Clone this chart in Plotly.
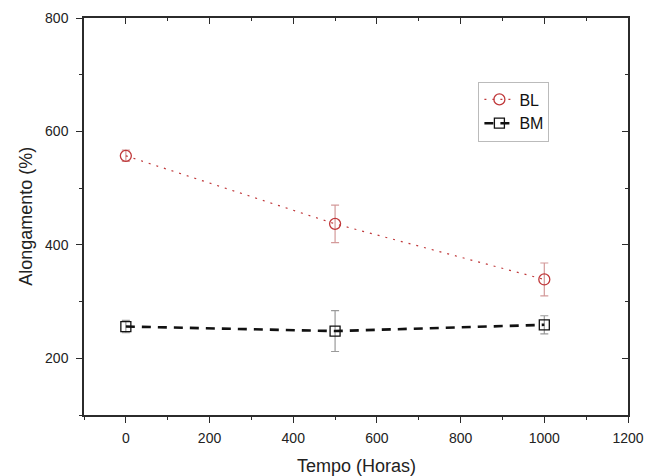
import plotly.graph_objects as go

horas = [0, 500, 1000]
bl_vals = [557, 437, 339]
bl_err = [10, 33, 29]
bm_vals = [256, 248, 259]
bm_err = [11, 36, 16]

x_ticks = [0, 200, 400, 600, 800, 1000, 1200]
y_ticks = [200, 400, 600, 800]

FONT = "Liberation Sans, Arial, sans-serif"
AX = "#2b2b2b"

fig = go.Figure()
fig.add_trace(go.Scatter(
    x=horas, y=bl_vals, name="BL", mode="lines+markers",
    line=dict(color="#c0393b", width=1.2, dash="2px,6px"),
    marker=dict(symbol="circle-open", size=11, color="#c0393b", line=dict(width=1.3)),
    error_y=dict(type="data", array=bl_err, color="#d49a9a", thickness=1.2, width=4),
))
fig.add_trace(go.Scatter(
    x=horas, y=bm_vals, name="BM", mode="lines+markers",
    line=dict(color="#111111", width=2.6, dash="9px,7px"),
    marker=dict(symbol="square-open", size=10, color="#111111", line=dict(width=1.3)),
    error_y=dict(type="data", array=bm_err, color="#9a9a9a", thickness=1.2, width=4),
))
fig.add_trace(go.Scatter(x=[None], y=[None], xaxis="x2", yaxis="y2",
                         showlegend=False, hoverinfo="skip"))

common = dict(showgrid=False, zeroline=False, showline=True, linecolor=AX,
              linewidth=1.5, tickcolor=AX, tickwidth=1.3, automargin=False)

fig.update_layout(
    width=657, height=476,
    margin=dict(l=84, r=29, t=18, b=61),
    paper_bgcolor="white", plot_bgcolor="white",
    font=dict(family=FONT, size=14, color="#222"),
    xaxis=dict(range=[-100, 1200], tickvals=x_ticks, ticks="outside", ticklen=6,
               minor=dict(ticks="outside", dtick=100, tick0=0, ticklen=3, tickcolor=AX, tickwidth=1.2),
               tickfont=dict(size=14), ticklabelstandoff=3, **common),
    yaxis=dict(range=[100, 800], tickvals=y_ticks, ticks="outside", ticklen=6,
               minor=dict(ticks="outside", dtick=100, tick0=0, ticklen=3, tickcolor=AX, tickwidth=1.2),
               tickfont=dict(size=14), ticklabelstandoff=5, **common),
    xaxis2=dict(range=[-100, 1200], overlaying="x", side="top", tickvals=x_ticks,
                ticks="inside", ticklen=6, showticklabels=False,
                minor=dict(ticks="inside", dtick=100, tick0=0, ticklen=3, tickcolor=AX, tickwidth=1.2),
                anchor="y2", **common),
    yaxis2=dict(range=[100, 800], overlaying="y", side="right", tickvals=y_ticks,
                ticks="inside", ticklen=6, showticklabels=False,
                minor=dict(ticks="inside", dtick=100, tick0=0, ticklen=3, tickcolor=AX, tickwidth=1.2),
                anchor="x2", **common),
    legend=dict(x=0.725, y=0.84, xanchor="left", yanchor="top",
                bordercolor="#bbbbbb", borderwidth=1, bgcolor="white",
                font=dict(size=16, color="#111"), itemwidth=30,
                tracegroupgap=0),
    showlegend=True,
    annotations=[
        dict(text="Tempo (Horas)", xref="paper", yref="paper", x=0.5, y=-0.128,
             xanchor="center", yanchor="middle", showarrow=False,
             font=dict(size=18, color="#222")),
        dict(text="Alongamento (%)", xref="paper", yref="paper", x=-0.108, y=0.5,
             xanchor="center", yanchor="middle", showarrow=False, textangle=-90,
             font=dict(size=18, color="#222")),
    ],
)

fig.write_html("out.html")
